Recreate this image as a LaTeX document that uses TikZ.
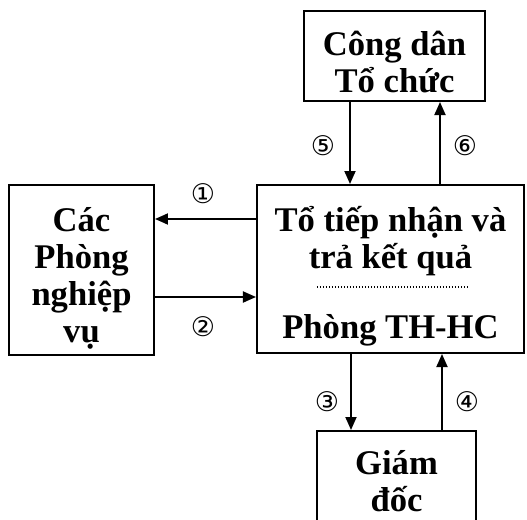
\documentclass[tikz,border=0pt]{standalone}
\usepackage{fontspec}
\setmainfont{Liberation Serif}
\newfontfamily\circfont{DejaVu Sans}
\usetikzlibrary{positioning,arrows.meta,calc}
\tikzset{
    unit/.style={rectangle,draw,line width=1pt,inner sep=0pt},
    boxtext/.style={align=center,font=\fontsize{17.3}{18.5}\selectfont\bfseries},
    flow/.style={-{Triangle[length=6.5pt,width=5.5pt]},line width=0.9pt},
    num/.style={font=\circfont\fontsize{13.5}{13.5}\selectfont,inner sep=0pt},
    divider/.style={line width=0.6pt,dash pattern=on 0.5pt off 1pt},
}

\begin{document}
\begin{tikzpicture}[x=0.5pt,y=-0.5pt]
    \useasboundingbox (0,0) rectangle (527,520);
    % boxes
    \node[unit,minimum width=133.5pt,minimum height=84pt] (main) at (390.5,269) {};
    \node[unit,minimum width=72.5pt,minimum height=85pt] (side) at (81.5,270) {};
    \node[unit,minimum width=90.5pt,minimum height=45pt] (top) at (394.5,56) {};
    \node[unit,minimum width=79.5pt,minimum height=45pt] (bot) at (396.5,476) {};

    % texts
    \node[boxtext] (sidetxt) at ($(side.center)+(0,8)$) {Các\\Phòng\\nghiệp\\vụ};
    \node[boxtext] (toptxt) at ($(top.center)+(0,6)$) {Công dân\\Tổ chức};
    \node[boxtext] (bottxt) at ($(bot.center)+(0,5)$) {Giám\\đốc};
    \node[boxtext] (recv) at ($(main.center)+(0,-28)$) {Tổ tiếp nhận và\\trả kết quả};
    \node[boxtext] (dept) at ($(main.center)+(0,61)$) {Phòng TH-HC};
    \draw[divider] ($(main.center)+(-73.5,18)$) -- ($(main.center)+(77.5,18)$);

    % connectors
    \coordinate (a1) at ($(main.west)+(0,-50)$);
    \coordinate (a2) at ($(main.west)+(0,28)$);
    \coordinate (a5) at ($(main.north)+(-40.5,0)$);
    \coordinate (a6) at ($(main.north)+(49.5,0)$);
    \coordinate (a3) at ($(main.south)+(-39.5,0)$);
    \coordinate (a4) at ($(main.south)+(51.5,0)$);
    \draw[flow] (a1) -- (a1 -| side.east);
    \draw[flow] (a2 -| side.east) -- (a2);
    \draw[flow] (a5 |- top.south) -- (a5);
    \draw[flow] (a6) -- (a6 |- top.south);
    \draw[flow] (a3) -- (a3 |- bot.north);
    \draw[flow] (a4 |- bot.north) -- (a4);

    % step numbers
    \node[num] (n1) at (203,194) {①};
    \node[num] (n2) at (203,327) {②};
    \node[num] (n3) at (327,402) {③};
    \node[num] (n4) at (467,402) {④};
    \node[num] (n5) at (323,146) {⑤};
    \node[num] (n6) at (465,146) {⑥};
\end{tikzpicture}
\end{document}
